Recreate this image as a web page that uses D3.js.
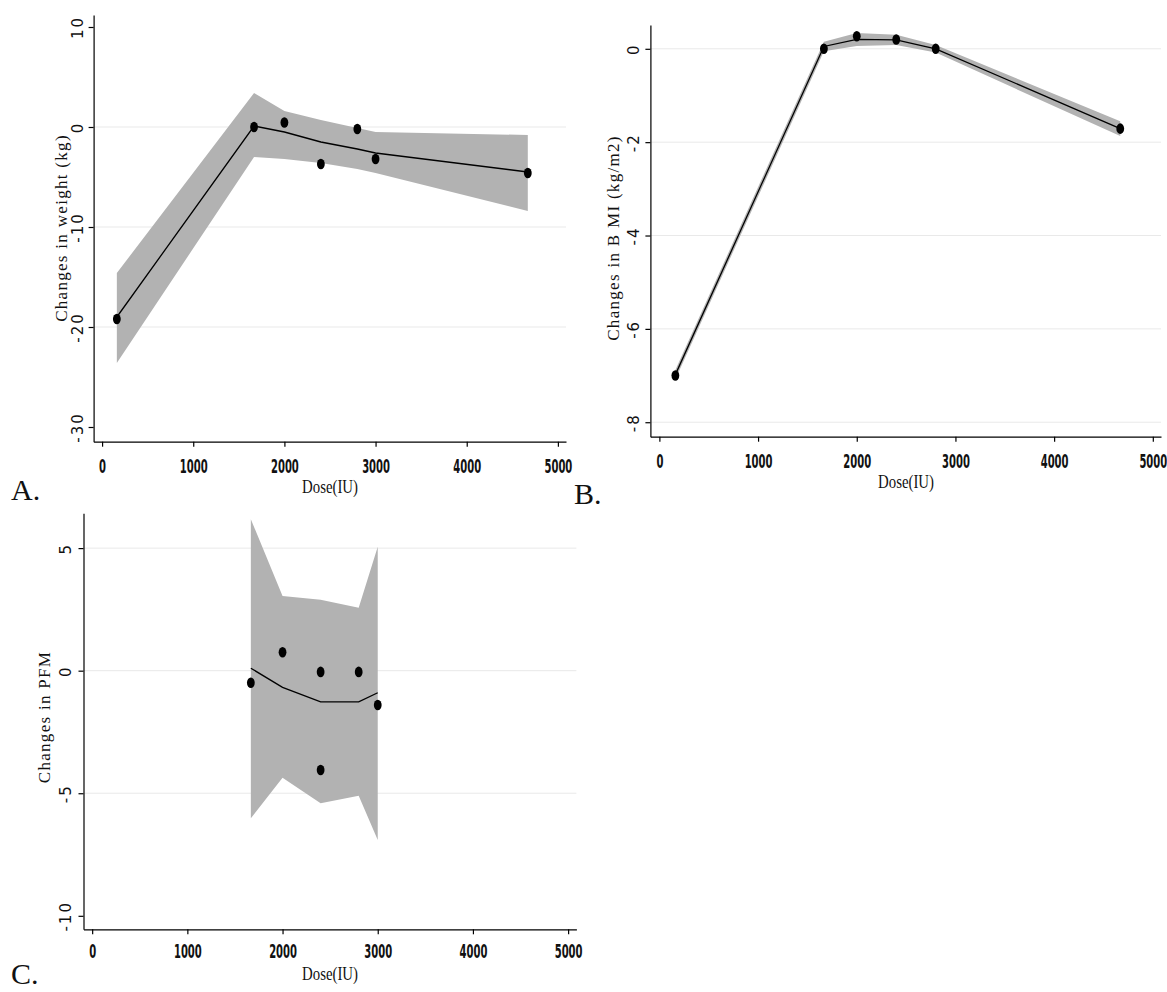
<!DOCTYPE html>
<html>
<head>
<meta charset="utf-8">
<script src="https://cdn.jsdelivr.net/npm/d3@7"></script>
<style>
body{margin:0;background:#fff;}
svg{display:block;}
</style>
</head>
<body>
<script>
// x axis (shared)
var doseTicks = [0, 1000, 2000, 3000, 4000, 5000];

// A. weight
var doseA = [162, 1667, 2000, 2400, 2800, 3000, 4670];
var obsA  = [-19.2, 0, 0.45, -3.7, -0.2, -3.2, -4.6];
var fitA  = [-19.0, 0.1, -0.5, -1.5, -2.2, -2.6, -4.5];
var hiA   = [-14.6, 3.4, 1.6, 0.7, -0.1, -0.5, -0.8];
var loA   = [-23.6, -3.0, -3.2, -3.6, -4.2, -4.6, -8.4];
var ticksA = [10, 0, -10, -20, -30];
var gridA  = [0, -10, -20];

// B. BMI
var doseB = [162, 1667, 2000, 2400, 2800, 4670];
var obsB  = [-7.0, 0, 0.27, 0.2, 0, -1.71];
var fitB  = [-6.98, 0.05, 0.2, 0.19, 0.0, -1.71];
var hiB   = [-6.88, 0.15, 0.34, 0.3, 0.08, -1.55];
var loB   = [-7.08, -0.05, 0.06, 0.08, -0.08, -1.87];
var ticksB = [0, -2, -4, -6, -8];
var gridB  = [0, -2, -4, -6, -8];

// C. PFM
var obsDoseC = [1667, 2000, 2400, 2400, 2800, 3000];
var obsC     = [-0.49, 0.75, -0.05, -4.05, -0.05, -1.4];
var doseC = [1667, 2000, 2400, 2800, 3000];
var fitC  = [0.1, -0.68, -1.27, -1.27, -0.9];
var hiC   = [6.18, 3.05, 2.89, 2.57, 5.06];
var loC   = [-6.02, -4.37, -5.41, -5.1, -6.91];
var ticksC = [5, 0, -5, -10];
var gridC  = [5, 0, -5];

var svg = d3.select('body').append('svg').attr('width', 1167).attr('height', 992);

function panel(o){
	var g = svg.append('g');
	var x = d3.scaleLinear().domain(o.xd).range([o.left, o.right]);
	var y = d3.scaleLinear().domain(o.yd).range([o.bottom, o.top]);

	// grid
	g.selectAll('line.grid').data(o.grid).enter().append('line')
		.attr('x1', o.left).attr('x2', o.right)
		.attr('y1', function(d){ return y(d); }).attr('y2', function(d){ return y(d); })
		.attr('stroke', '#e9e9e9').attr('stroke-width', 1);

	// band + fitted line
	var band = o.fitDose.map(function(d, i){ return {x: d, lo: o.lo[i], hi: o.hi[i], f: o.fit[i]}; });
	g.append('path').datum(band)
		.attr('d', d3.area().x(function(d){ return x(d.x); }).y0(function(d){ return y(d.lo); }).y1(function(d){ return y(d.hi); }))
		.attr('fill', '#b2b2b2');
	g.append('path').datum(band)
		.attr('d', d3.line().x(function(d){ return x(d.x); }).y(function(d){ return y(d.f); }))
		.attr('fill', 'none').attr('stroke', '#000').attr('stroke-width', 1.3);

	// points
	g.selectAll('ellipse').data(o.obsDose).enter().append('ellipse')
		.attr('cx', function(d){ return x(d); })
		.attr('cy', function(d, i){ return y(o.obs[i]); })
		.attr('rx', 3.9).attr('ry', 5.3).attr('fill', '#000');

	// axes
	var ax = g.append('g').attr('transform', 'translate(0,' + o.bottom + ')')
		.call(d3.axisBottom(x).tickValues(doseTicks).tickSize(5).tickSizeOuter(0).tickFormat(d3.format('d')));
	ax.selectAll('text').attr('y', 0).attr('dy', 0)
		.attr('transform', 'translate(0,' + o.xlab + ') scale(0.5,1)')
		.style('font-family', 'DejaVu Sans').style('font-size', '20px').style('font-weight', 'bold').attr('fill', '#111');

	var ay = g.append('g').attr('transform', 'translate(' + o.left + ',0)')
		.call(d3.axisLeft(y).tickValues(o.ticks).tickSize(5).tickSizeOuter(0).tickFormat(function(d){ return String(d); }));
	ay.selectAll('text').attr('x', 0).attr('dy', 0).attr('text-anchor', 'middle')
		.attr('transform', 'translate(' + o.ylab + ',0) rotate(-90)')
		.style('font-family', 'DejaVu Sans').style('font-size', '15px').style('letter-spacing', '2px').attr('fill', '#111');

	g.selectAll('.domain, .tick line').attr('stroke', '#000').attr('stroke-width', 1.2);

	// titles
	g.append('text').text('Dose(IU)')
		.attr('transform', 'translate(' + o.xt + ',' + (o.bottom + 51) + ') scale(0.78,1)')
		.attr('text-anchor', 'middle')
		.style('font-family', 'Liberation Serif').style('font-size', '19px').attr('fill', '#111');
	g.append('text').text(o.ytitle)
		.attr('transform', 'translate(' + o.yt + ',' + o.ytc + ') rotate(-90)')
		.attr('text-anchor', 'middle')
		.style('font-family', 'Liberation Serif').style('font-size', '17px')
		.style('letter-spacing', o.ls).attr('fill', '#111');
	g.append('text').text(o.tag).attr('x', o.tagx).attr('y', o.tagy)
		.style('font-family', 'Liberation Serif').style('font-size', '30px').attr('fill', '#111');
}

panel({left: 93.6, right: 566, top: 15, bottom: 441.7, xd: [-93, 5089], yd: [-31.47, 11.2],
	grid: gridA, ticks: ticksA, fitDose: doseA, fit: fitA, hi: hiA, lo: loA, obsDose: doseA, obs: obsA,
	xlab: 31, ylab: -10.5, xt: 330, yt: 67, ytc: 228, ytitle: 'Changes in weight (kg)', ls: '1.3px',
	tag: 'A.', tagx: 11, tagy: 500});

panel({left: 650.4, right: 1161, top: 25, bottom: 436.7, xd: [-91, 5083], yd: [-8.31, 0.51],
	grid: gridB, ticks: ticksB, fitDose: doseB, fit: fitB, hi: hiB, lo: loB, obsDose: doseB, obs: obsB,
	xlab: 31, ylab: -11, xt: 906, yt: 619, ytc: 238, ytitle: 'Changes in B MI (kg/m2)', ls: '1.3px',
	tag: 'B.', tagx: 574, tagy: 504});

panel({left: 83.5, right: 576.4, top: 513.3, bottom: 929.3, xd: [-91, 5087], yd: [-10.55, 6.42],
	grid: gridC, ticks: ticksC, fitDose: doseC, fit: fitC, hi: hiC, lo: loC, obsDose: obsDoseC, obs: obsC,
	xlab: 29, ylab: -13, xt: 330, yt: 50, ytc: 717, ytitle: 'Changes in PFM', ls: '1.3px',
	tag: 'C.', tagx: 11, tagy: 984});
</script>
</body>
</html>
